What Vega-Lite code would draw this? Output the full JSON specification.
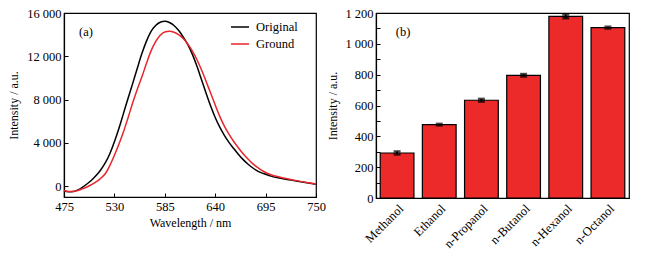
{
  "$schema": "https://vega.github.io/schema/vega-lite/v6.json",
  "background": "white",
  "padding": {"left": 7, "top": 6, "right": 2, "bottom": 2},
  "spacing": 0,
  "config": {
    "font": "Liberation Serif",
    "view": {"stroke": "black", "strokeWidth": 1.2},
    "axis": {
      "domainColor": "black", "domainWidth": 1.2, "tickColor": "black", "tickWidth": 1,
      "labelColor": "black", "titleColor": "black",
      "labelFont": "Liberation Serif", "titleFont": "Liberation Serif",
      "labelFontSize": 12.5, "titleFontSize": 12, "titleFontWeight": "normal",
      "grid": false, "tickSize": -4, "labelPadding": 7, "labelOverlap": false
    }
  },
  "hconcat": [
    {
      "width": 252,
      "height": 184,
      "layer": [
        {
          "data": {"values": [
            {"wavelength": 475, "intensity": -450, "sample": "Original"},
            {"wavelength": 480, "intensity": -520, "sample": "Original"},
            {"wavelength": 485, "intensity": -500, "sample": "Original"},
            {"wavelength": 490, "intensity": -350, "sample": "Original"},
            {"wavelength": 495, "intensity": -100, "sample": "Original"},
            {"wavelength": 500, "intensity": 200, "sample": "Original"},
            {"wavelength": 505, "intensity": 550, "sample": "Original"},
            {"wavelength": 510, "intensity": 980, "sample": "Original"},
            {"wavelength": 515, "intensity": 1500, "sample": "Original"},
            {"wavelength": 520, "intensity": 2150, "sample": "Original"},
            {"wavelength": 525, "intensity": 3000, "sample": "Original"},
            {"wavelength": 530, "intensity": 4100, "sample": "Original"},
            {"wavelength": 535, "intensity": 5350, "sample": "Original"},
            {"wavelength": 540, "intensity": 6750, "sample": "Original"},
            {"wavelength": 545, "intensity": 8150, "sample": "Original"},
            {"wavelength": 550, "intensity": 9500, "sample": "Original"},
            {"wavelength": 555, "intensity": 10900, "sample": "Original"},
            {"wavelength": 560, "intensity": 12250, "sample": "Original"},
            {"wavelength": 565, "intensity": 13400, "sample": "Original"},
            {"wavelength": 570, "intensity": 14300, "sample": "Original"},
            {"wavelength": 575, "intensity": 14850, "sample": "Original"},
            {"wavelength": 580, "intensity": 15150, "sample": "Original"},
            {"wavelength": 585, "intensity": 15230, "sample": "Original"},
            {"wavelength": 590, "intensity": 15120, "sample": "Original"},
            {"wavelength": 595, "intensity": 14850, "sample": "Original"},
            {"wavelength": 600, "intensity": 14400, "sample": "Original"},
            {"wavelength": 605, "intensity": 13800, "sample": "Original"},
            {"wavelength": 610, "intensity": 13100, "sample": "Original"},
            {"wavelength": 615, "intensity": 12200, "sample": "Original"},
            {"wavelength": 620, "intensity": 11100, "sample": "Original"},
            {"wavelength": 625, "intensity": 9850, "sample": "Original"},
            {"wavelength": 630, "intensity": 8600, "sample": "Original"},
            {"wavelength": 635, "intensity": 7400, "sample": "Original"},
            {"wavelength": 640, "intensity": 6350, "sample": "Original"},
            {"wavelength": 645, "intensity": 5450, "sample": "Original"},
            {"wavelength": 650, "intensity": 4700, "sample": "Original"},
            {"wavelength": 655, "intensity": 4050, "sample": "Original"},
            {"wavelength": 660, "intensity": 3500, "sample": "Original"},
            {"wavelength": 665, "intensity": 2980, "sample": "Original"},
            {"wavelength": 670, "intensity": 2500, "sample": "Original"},
            {"wavelength": 675, "intensity": 2100, "sample": "Original"},
            {"wavelength": 680, "intensity": 1750, "sample": "Original"},
            {"wavelength": 685, "intensity": 1460, "sample": "Original"},
            {"wavelength": 690, "intensity": 1250, "sample": "Original"},
            {"wavelength": 695, "intensity": 1100, "sample": "Original"},
            {"wavelength": 700, "intensity": 950, "sample": "Original"},
            {"wavelength": 710, "intensity": 750, "sample": "Original"},
            {"wavelength": 720, "intensity": 600, "sample": "Original"},
            {"wavelength": 730, "intensity": 450, "sample": "Original"},
            {"wavelength": 740, "intensity": 310, "sample": "Original"},
            {"wavelength": 750, "intensity": 180, "sample": "Original"},
            {"wavelength": 475, "intensity": -400, "sample": "Ground"},
            {"wavelength": 480, "intensity": -500, "sample": "Ground"},
            {"wavelength": 485, "intensity": -500, "sample": "Ground"},
            {"wavelength": 490, "intensity": -400, "sample": "Ground"},
            {"wavelength": 495, "intensity": -250, "sample": "Ground"},
            {"wavelength": 500, "intensity": -80, "sample": "Ground"},
            {"wavelength": 505, "intensity": 150, "sample": "Ground"},
            {"wavelength": 510, "intensity": 400, "sample": "Ground"},
            {"wavelength": 515, "intensity": 720, "sample": "Ground"},
            {"wavelength": 520, "intensity": 1150, "sample": "Ground"},
            {"wavelength": 525, "intensity": 1900, "sample": "Ground"},
            {"wavelength": 530, "intensity": 2850, "sample": "Ground"},
            {"wavelength": 535, "intensity": 3900, "sample": "Ground"},
            {"wavelength": 540, "intensity": 5050, "sample": "Ground"},
            {"wavelength": 545, "intensity": 6350, "sample": "Ground"},
            {"wavelength": 550, "intensity": 7700, "sample": "Ground"},
            {"wavelength": 555, "intensity": 8950, "sample": "Ground"},
            {"wavelength": 560, "intensity": 10100, "sample": "Ground"},
            {"wavelength": 565, "intensity": 11350, "sample": "Ground"},
            {"wavelength": 570, "intensity": 12500, "sample": "Ground"},
            {"wavelength": 575, "intensity": 13350, "sample": "Ground"},
            {"wavelength": 580, "intensity": 13950, "sample": "Ground"},
            {"wavelength": 585, "intensity": 14250, "sample": "Ground"},
            {"wavelength": 590, "intensity": 14310, "sample": "Ground"},
            {"wavelength": 595, "intensity": 14220, "sample": "Ground"},
            {"wavelength": 600, "intensity": 14000, "sample": "Ground"},
            {"wavelength": 605, "intensity": 13650, "sample": "Ground"},
            {"wavelength": 610, "intensity": 13150, "sample": "Ground"},
            {"wavelength": 615, "intensity": 12500, "sample": "Ground"},
            {"wavelength": 620, "intensity": 11700, "sample": "Ground"},
            {"wavelength": 625, "intensity": 10750, "sample": "Ground"},
            {"wavelength": 630, "intensity": 9700, "sample": "Ground"},
            {"wavelength": 635, "intensity": 8600, "sample": "Ground"},
            {"wavelength": 640, "intensity": 7500, "sample": "Ground"},
            {"wavelength": 645, "intensity": 6450, "sample": "Ground"},
            {"wavelength": 650, "intensity": 5550, "sample": "Ground"},
            {"wavelength": 655, "intensity": 4800, "sample": "Ground"},
            {"wavelength": 660, "intensity": 4150, "sample": "Ground"},
            {"wavelength": 665, "intensity": 3580, "sample": "Ground"},
            {"wavelength": 670, "intensity": 3050, "sample": "Ground"},
            {"wavelength": 675, "intensity": 2580, "sample": "Ground"},
            {"wavelength": 680, "intensity": 2150, "sample": "Ground"},
            {"wavelength": 685, "intensity": 1800, "sample": "Ground"},
            {"wavelength": 690, "intensity": 1500, "sample": "Ground"},
            {"wavelength": 695, "intensity": 1260, "sample": "Ground"},
            {"wavelength": 700, "intensity": 1080, "sample": "Ground"},
            {"wavelength": 710, "intensity": 850, "sample": "Ground"},
            {"wavelength": 720, "intensity": 660, "sample": "Ground"},
            {"wavelength": 730, "intensity": 490, "sample": "Ground"},
            {"wavelength": 740, "intensity": 340, "sample": "Ground"},
            {"wavelength": 750, "intensity": 200, "sample": "Ground"}
          ]},
          "mark": {"type": "line", "strokeWidth": 1.5, "interpolate": "monotone"},
          "encoding": {
            "x": {
              "field": "wavelength", "type": "quantitative",
              "scale": {"domain": [475, 750], "nice": false, "zero": false},
              "axis": {
                "title": "Wavelength / nm", "titlePadding": 5,
                "values": [475, 502.5, 530, 557.5, 585, 612.5, 640, 667.5, 695, 722.5, 750],
                "labelExpr": "(datum.value - 475) % 55 === 0 ? format(datum.value, 'd') : ''",
                "labelFlush": false, "labelOverlap": false
              }
            },
            "y": {
              "field": "intensity", "type": "quantitative",
              "scale": {"domain": [-1000, 16000], "nice": false, "zero": false},
              "axis": {
                "title": "Intensity / a.u.", "titlePadding": 6,
                "values": [0, 2000, 4000, 6000, 8000, 10000, 12000, 14000, 16000],
                "labelExpr": "datum.value % 4000 === 0 ? replace(format(datum.value, ','), ',', ' ') : ''",
                "labelFlush": false, "labelOverlap": false
              }
            },
            "color": {
              "field": "sample", "type": "nominal",
              "scale": {"domain": ["Original", "Ground"], "range": ["#000000", "#e8262b"]},
              "legend": {
                "title": null, "orient": "none", "legendX": 166, "legendY": 4,
                "symbolType": "stroke", "symbolSize": 324, "symbolStrokeWidth": 1.5,
                "labelFont": "Liberation Serif", "labelFontSize": 12.5, "labelColor": "black",
                "labelOffset": 6, "rowPadding": -1
              }
            }
          }
        },
        {
          "data": {"values": [{"label": "(a)"}]},
          "mark": {"type": "text", "font": "Liberation Serif", "fontSize": 12.5, "color": "black", "align": "center", "baseline": "middle"},
          "encoding": {
            "x": {"datum": 499},
            "y": {"datum": 14250},
            "text": {"field": "label"}
          }
        }
      ]
    },
    {
      "width": 253,
      "height": 185,
      "layer": [
        {
          "data": {"values": [
            {"solvent": "Methanol", "intensity": 292, "err": 10},
            {"solvent": "Ethanol", "intensity": 476, "err": 5},
            {"solvent": "n-Propanol", "intensity": 634, "err": 9},
            {"solvent": "n-Butanol", "intensity": 796, "err": 8},
            {"solvent": "n-Hexanol", "intensity": 1178, "err": 12},
            {"solvent": "n-Octanol", "intensity": 1105, "err": 6}
          ]},
          "encoding": {
            "x": {
              "field": "solvent", "type": "nominal", "sort": null,
              "scale": {"domain": ["Methanol", "Ethanol", "n-Propanol", "n-Butanol", "n-Hexanol", "n-Octanol"], "paddingInner": 0.2, "paddingOuter": 0.1},
              "axis": {"title": null, "labelAngle": -45, "ticks": false, "labelPadding": 4}
            },
            "y": {
              "field": "intensity", "type": "quantitative",
              "scale": {"domain": [0, 1200], "nice": false},
              "axis": {
                "title": "Intensity / a.u.", "titlePadding": 5,
                "values": [0, 100, 200, 300, 400, 500, 600, 700, 800, 900, 1000, 1100, 1200],
                "labelExpr": "datum.value % 200 === 0 ? replace(format(datum.value, ','), ',', ' ') : ''",
                "labelFlush": false, "labelOverlap": false
              }
            }
          },
          "layer": [
            {
              "mark": {"type": "bar", "color": "#ec2a2a", "stroke": "black", "strokeWidth": 1.2}
            },
            {
              "mark": {"type": "errorbar", "color": "black", "thickness": 2, "ticks": {"size": 7, "thickness": 2.5, "color": "black"}},
              "encoding": {
                "yError": {"field": "err"}
              }
            }
          ]
        },
        {
          "data": {"values": [{"label": "(b)"}]},
          "mark": {"type": "text", "font": "Liberation Serif", "fontSize": 12.5, "color": "black", "align": "center", "baseline": "middle", "dx": 6},
          "encoding": {
            "x": {
              "datum": "Methanol", "type": "nominal",
              "axis": {"title": null, "labelAngle": -45, "ticks": false, "labelPadding": 4}
            },
            "y": {
              "datum": 1077, "type": "quantitative",
              "axis": {
                "title": "Intensity / a.u.", "titlePadding": 5,
                "values": [0, 100, 200, 300, 400, 500, 600, 700, 800, 900, 1000, 1100, 1200],
                "labelExpr": "datum.value % 200 === 0 ? replace(format(datum.value, ','), ',', ' ') : ''",
                "labelFlush": false, "labelOverlap": false
              }
            },
            "text": {"field": "label"}
          }
        }
      ]
    }
  ]
}
